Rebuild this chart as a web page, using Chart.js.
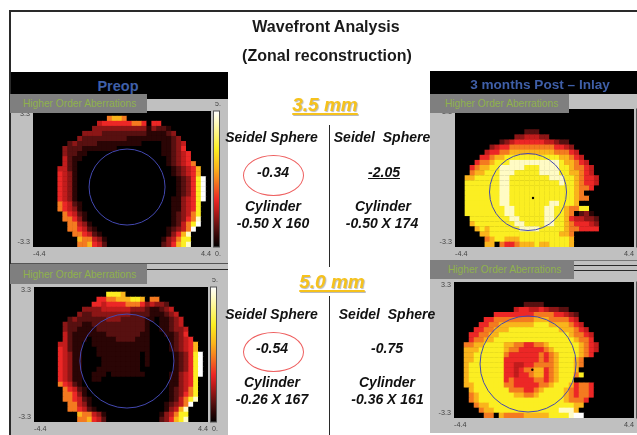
<!DOCTYPE html>
<html><head><meta charset="utf-8">
<script src="https://cdn.jsdelivr.net/npm/chart.js@4"></script>
<style>
html,body{margin:0;padding:0;background:#fff;overflow:hidden}
#stage{position:relative;width:637px;height:435px;overflow:hidden;font-family:"Liberation Sans",Arial,sans-serif;filter:blur(.35px)}
#stage div,#stage canvas{position:absolute}
#stage canvas{filter:blur(.5px)}
.b{background:#c0c0c0}.k{background:#000}.line{background:#2a2a2a}
.badge{background:#7f7f7f;color:#8fb24c;font-size:10.2px;white-space:nowrap;display:flex;align-items:center;z-index:3}
.t{transform:translate(-50%,-50%);white-space:pre;font-weight:bold;font-style:italic;color:#111;font-size:14px;z-index:4}
.h{font-style:normal;font-size:16px;color:#1a1a1a}
.mm{color:#f6c21c;font-size:19px;text-decoration:underline;text-decoration-thickness:1.5px;text-underline-offset:2px;text-shadow:1px 1px 1px #bbb}
.head{color:#3f5fa8;font-weight:bold;font-style:normal;z-index:4}
.e{border:1px solid #ee5f5f;border-radius:50%;box-sizing:border-box}
</style></head><body><div id="stage"></div>
<script>
// Levels 0-a (hex) on the 0..5 colour bar; rows top to bottom, 36 columns, 27 rows.
const preop35 = [
"000000 000000 000000 000000 000000 000000",
"000000 000000 000677 600000 000000 000000",
"000000 000000 045555 556650 550000 000000",
"000000 000000 333333 333331 322100 000000",
"000000 000033 332222 222221 111230 000000",
"000000 000322 222222 211111 111123 000000",
"000000 023222 211111 111100 001123 400000",
"000000 322211 111110 000000 001123 500000",
"000000 322110 000000 000000 001123 450000",
"000000 421100 000000 000000 000123 450000",
"000000 421000 000000 000000 000123 456000",
"000004 421000 000000 000000 000012 345700",
"000005 431000 000000 000000 000012 345700",
"000005 431000 000000 000000 000001 2358a0",
"000005 431000 000000 000000 000001 2358a0",
"000005 431000 000000 000000 000001 2358a0",
"000005 431000 000000 000000 000001 2358a0",
"000005 431000 000000 000000 000011 3458a0",
"000006 542100 000000 000000 000011 345800",
"000006 543100 000000 000000 000011 345800",
"000000 654210 000000 000000 000012 346800",
"000000 665310 000000 000000 000012 356900",
"000000 066431 000000 000000 000012 468a00",
"000000 066542 100000 000000 000123 46a000",
"000000 006654 210000 000000 000135 790000",
"000000 000766 431000 000000 001346 880000",
"000000 000667 542000 000000 002357 890000"];
const preop50 = [
"000000 000000 000000 000000 000000 000000",
"000000 000000 000888 700000 000000 000000",
"000000 000000 055667 778870 660000 000000",
"000000 000000 554555 566653 433200 000000",
"000000 000033 334444 443332 112340 000000",
"000000 000322 333333 332222 111234 000000",
"000000 023222 222333 222221 101123 400000",
"000000 322211 222222 222221 001123 400000",
"000000 322111 122222 222221 001123 340000",
"000000 421111 111222 222211 000112 350000",
"000000 421110 111112 222111 000012 345000",
"000004 421100 111111 111111 000012 345700",
"000005 421100 011111 111111 000012 345700",
"000005 431100 011111 111101 000001 2358a0",
"000005 431100 001111 111101 000001 2358a0",
"000005 431100 001111 111101 000001 2358a0",
"000005 431100 011111 111100 000001 2358a0",
"000005 431100 111011 111110 000011 3458a0",
"000005 431100 110000 000000 000011 345800",
"000006 542100 000000 000000 000011 345800",
"000000 654210 000000 000000 000012 346800",
"000000 665310 000000 000000 000012 356800",
"000000 665421 000000 000000 000012 468900",
"000000 066431 000000 000000 000123 46a000",
"000000 066542 100000 000000 000134 790000",
"000000 000766 431000 000000 001346 880000",
"000000 000667 542000 000000 002357 890000"];
const post35 = [
"000000 000000 000000 000000 000000 000000",
"000000 000000 000000 000000 000000 000000",
"000000 000000 000000 000000 000000 000000",
"000000 000000 000000 000000 000000 000000",
"000000 000000 002220 000000 000000 000000",
"000000 000000 334443 300000 000000 000000",
"000000 000234 555555 443220 000000 000000",
"000000 034556 666666 665543 000000 000000",
"000000 455667 777777 776665 400000 000000",
"000005 567788 888888 888776 540000 000000",
"000056 678889 999999 999877 654000 000000",
"000567 788999 998889 999887 665400 000000",
"000677 888999 888889 999887 765400 000000",
"007788 888998 888888 899988 765540 000000",
"008888 888998 888888 888988 765540 000000",
"008888 888998 888888 888888 766500 000000",
"008888 888998 888888 888888 760000 000000",
"008888 888998 888888 888888 766000 000000",
"008888 888998 888888 899888 700000 000000",
"008888 888899 888888 998876 688000 000000",
"008888 888899 888888 998876 023100 000000",
"000888 888889 988888 998875 443320 000000",
"000788 888888 998888 998876 555430 000000",
"000078 788888 899998 888876 655550 000000",
"000007 788888 888888 888776 000000 000000",
"000000 678877 788888 888887 000000 000000",
"000000 770655 677787 788887 000000 000000"];
const post50 = [
"000000 000000 000000 000000 000000 000000",
"000000 000000 000000 000000 000000 000000",
"000000 000000 000000 000000 000000 000000",
"000000 000000 000000 000000 000000 000000",
"000000 000000 002222 000000 000000 000000",
"000000 000000 455445 433220 000000 000000",
"000000 005555 555566 665543 200000 000000",
"000000 556666 666677 766665 400000 000000",
"000005 566777 777788 877776 540000 000000",
"000055 667778 888888 888777 654000 000000",
"000556 677888 888888 888887 665400 000000",
"000566 778888 888888 888888 766500 000000",
"006677 888877 665566 788888 876540 000000",
"007778 888876 655555 678888 876540 000000",
"007788 888865 555556 567888 876500 000000",
"007788 888855 555556 567888 760000 000000",
"007888 888855 445566 667888 760000 000000",
"007888 888855 456677 567888 700000 000000",
"007888 888855 455677 567888 680000 000000",
"007888 888856 555566 567888 000000 000000",
"007788 888866 555556 678887 566500 000000",
"000788 888886 665567 888876 566500 000000",
"000678 888888 776678 888876 566500 000000",
"000678 888888 888888 888876 665000 000000",
"000067 788888 888888 888888 770000 000000",
"000006 778888 888888 888999 700000 000000",
"000000 660766 667777 788889 aa0000 000000"];

const levelColors = ["#000000","#2a0505","#571010","#8c1616","#c21c1c","#ec2726","#f47a20","#fab41c","#fbee22","#fffbc4","#ffffff"];
const colorBarStops = [1, .93, .86, .79, .72, .65, .52, .42, .28, .08, 0];
const xRange = [-4.4, 4.4];
const yRange = [-3.3, 3.3];
const colorBarLabels = ["5.", "0."];
const badgeText = "Higher Order Aberrations";
const preopCircles = [[0.25, -0.39], [0.30, -0.32]];
const postCircles = [[-0.81, -0.67], [-0.78, -0.68]];
const postDots = [[-0.565, -0.96], [-0.57, -0.96]];

const stage = document.getElementById('stage');
function box(cls, l, t, w, h, txt, css) {
  const d = document.createElement('div');
  d.className = cls;
  d.style.cssText = `left:${l}px;top:${t}px;` + (w != null ? `width:${w}px;height:${h}px;` : '') + (css || '');
  if (txt != null) d.textContent = txt;
  stage.appendChild(d);
  return d;
}
// frame
box('line', 10, 9.5, 627, 2);
box('line', 8.5, 10, 2.5, 425);
// grey panels and headers
box('b', 11, 99, 217, 336);
box('b', 430, 94, 207, 339);
box('k', 11, 72, 217, 27);
box('k', 430, 71, 207, 23);
box('line', 11, 262.5, 217, 1, null, 'background:#555');
box('line', 147, 268.5, 81, 1.2);
box('line', 574, 265, 63, 1.2);
box('line', 574, 269.5, 63, 1.2);
box('line', 430, 259.5, 207, 1, null, 'background:#777');
// central rule
box('line', 329, 125, 1.2, 142);
box('line', 329, 296, 1.2, 139);

function txt(s, x, y, cls, css) { return box('t ' + (cls || ''), x, y, null, null, s, css); }
txt("Preop", 118, 86, 'head', 'font-size:14.5px');
txt("3 months Post \u2013 Inlay", 540, 84, 'head', 'font-size:13.6px');
txt("Wavefront Analysis", 326, 27, 'h');
txt("(Zonal reconstruction)", 327, 56, 'h');
txt("3.5 mm", 325, 105, 'mm');
txt("5.0 mm", 332, 282, 'mm');
[["Seidel Sphere",271.5,137],["Seidel  Sphere",382,137],["Seidel Sphere",271.5,314],["Seidel  Sphere",387,314],
 ["-0.34",273,172],["-0.54",272,348],["-0.75",387,348],
 ["Cylinder",273,206],["-0.50 X 160",273,223],["Cylinder",383,206],["-0.50 X 174",382,223],
 ["Cylinder",272,382],["-0.26 X 167",272,399],["Cylinder",387,382],["-0.36 X 161",387.5,399]
].forEach(a => txt(a[0], a[1], a[2]));
txt("-2.05", 384, 172, '', 'text-decoration:underline');
box('e', 243, 155, 61, 41);
box('e', 243, 332, 61, 40);

function badge(l, t, w, h, pad) { box('badge', l, t, w - pad, h, badgeText, `padding-left:${pad}px`); }
badge(10, 94, 137, 19, 13);
badge(10, 264, 137, 20, 13);
badge(430, 94, 139, 19, 15);
badge(430, 260, 144, 19, 18);

const colorBar = {
  id: 'colorBar',
  beforeDatasetsDraw(chart) {
    const a = chart.chartArea, c = chart.ctx;
    c.save(); c.fillStyle = '#000'; c.fillRect(a.left, a.top, a.right - a.left, a.bottom - a.top); c.restore();
  },
  afterDraw(chart, args, o) {
    const a = chart.chartArea, c = chart.ctx, x = a.right + 2, w = 7;
    const g = c.createLinearGradient(0, a.top, 0, a.bottom);
    levelColors.forEach((col, i) => g.addColorStop(colorBarStops[i], col));
    c.save();
    c.fillStyle = g; c.fillRect(x, a.top, w, a.bottom - a.top);
    c.strokeStyle = '#555'; c.lineWidth = 1; c.strokeRect(x + .5, a.top, w - 1, a.bottom - a.top);
    if (o.labels) {
      c.fillStyle = '#444'; c.font = '7px "Liberation Sans"'; c.textAlign = 'left'; c.textBaseline = 'middle';
      c.fillText(colorBarLabels[0], x + 2, a.top - 7);
      c.fillText(colorBarLabels[1], x + 2, a.bottom + 7);
    }
    c.restore();
  }
};

function panel(p) {
  const cvs = document.createElement('canvas');
  const L = 28, T = 9, B = 14;
  const W = L + p.w + p.right, H = T + p.h + B;
  cvs.width = W; cvs.height = H;
  cvs.style.cssText = `left:${p.x - L}px;top:${p.y - T}px;width:${W}px;height:${H}px;z-index:2`;
  stage.appendChild(cvs);
  const cells = [];
  p.rows.forEach((row, r) => {
    [...row.replace(/ /g, '')].forEach((ch, c) => {
      cells.push({
        x: xRange[0] + (c + .5) * (xRange[1] - xRange[0]) / 36,
        y: yRange[1] - (r + .5) * (yRange[1] - yRange[0]) / 27,
        v: parseInt(ch, 16)
      });
    });
  });
  const datasets = [];
  if (p.dot) datasets.push({
    data: [{ x: p.dot[0], y: p.dot[1] }], pointStyle: 'circle', pointRadius: 1.2, pointBackgroundColor: '#000', pointBorderWidth: 0
  });
  datasets.push({
    data: [{ x: p.circle[0], y: p.circle[1] }], pointStyle: 'circle', pointRadius: p.radius, pointBackgroundColor: 'rgba(0,0,0,0)',
    pointBorderColor: '#4348b0', pointBorderWidth: 1
  }, {
    data: cells, pointStyle: 'rect', pointRadius: 3.9, pointHoverRadius: 3.9, borderWidth: 0,
    pointBackgroundColor: ctx => levelColors[ctx.raw ? ctx.raw.v : 0]
  });
  new Chart(cvs, {
    type: 'scatter',
    data: { datasets },
    options: {
      responsive: false, animation: false, events: [],
      layout: { autoPadding: false, padding: { left: 0, top: T, right: p.right, bottom: 0 } },
      plugins: { legend: { display: false }, tooltip: { enabled: false }, colorBar: { labels: p.labels } },
      scales: {
        x: {
          type: 'linear', min: xRange[0], max: xRange[1], border: { display: false }, grid: { display: false, drawTicks: false },
          afterBuildTicks: s => { s.ticks = xRange.map(value => ({ value })); },
          afterFit: s => { s.height = B; },
          ticks: { align: 'inner', maxRotation: 0, padding: 3, color: '#444', font: { size: 7.2, family: '"Liberation Sans"' },
                   callback: v => String(v) }
        },
        y: {
          type: 'linear', min: yRange[0], max: yRange[1], border: { display: false }, grid: { display: false, drawTicks: false },
          afterBuildTicks: s => { s.ticks = [{ value: yRange[0] + .22 }, { value: yRange[1] - .15 }]; },
          afterFit: s => { s.width = L; },
          ticks: { padding: 3, color: '#444', font: { size: 7.2, family: '"Liberation Sans"' },
                   callback: v => v > 0 ? String(yRange[1]) : String(yRange[0]) }
        }
      }
    },
    plugins: [colorBar]
  });
}
panel({ rows: preop35, x: 33, y: 111, w: 178, h: 136, right: 20, labels: true, circle: preopCircles[0], radius: 38 });
panel({ rows: preop50, x: 34, y: 287, w: 174, h: 135, right: 20, labels: true, circle: preopCircles[1], radius: 47 });
panel({ rows: post35, x: 455, y: 109, w: 179, h: 138, right: 3, circle: postCircles[0], radius: 38.5, dot: postDots[0] });
panel({ rows: post50, x: 454, y: 282, w: 180, h: 136, right: 3, circle: postCircles[1], radius: 48, dot: postDots[1] });
</script></body></html>
